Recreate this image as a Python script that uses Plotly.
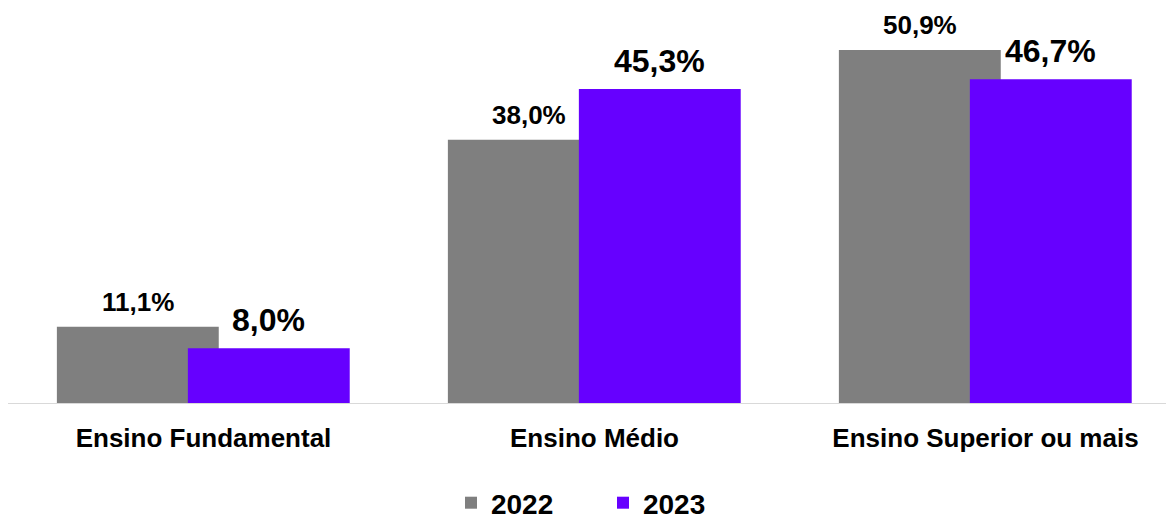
import plotly.graph_objects as go

categories = ["Ensino Fundamental", "Ensino Médio", "Ensino Superior ou mais"]
years = ["2022", "2023"]
values_2022 = [11.1, 38.0, 50.9]
values_2023 = [8.0, 45.3, 46.7]
colors = ["#7f7f7f", "#6600ff"]
label_sizes = [26, 32]

bar_width = 0.414
offsets = [-0.375, -0.04]

FONT = "Liberation Sans, Arial, sans-serif"

def fmt(v):
    return f"{v:.1f}".replace(".", ",") + "%"

fig = go.Figure()
xs = list(range(len(categories)))
for name, vals, col, off in zip(years, [values_2022, values_2023], colors, offsets):
    fig.add_trace(go.Bar(
        x=xs, y=vals, name=name, width=bar_width, offset=off,
        marker=dict(color=col, line=dict(width=0)),
        hoverinfo="skip",
    ))

for vals, off, size in zip([values_2022, values_2023], offsets, label_sizes):
    for i, v in enumerate(vals):
        fig.add_annotation(
            x=i + off + bar_width / 2, y=v, text=fmt(v), showarrow=False,
            yanchor="bottom", yshift=8,
            font=dict(family=FONT, size=size, color="black", weight="bold"),
        )

fig.update_layout(
    width=1166, height=523,
    margin=dict(l=8, r=0, t=0, b=119, autoexpand=False),
    paper_bgcolor="white", plot_bgcolor="white",
    barmode="overlay",
    showlegend=True,
    legend=dict(
        orientation="h", x=0.5138, xanchor="center",
        y=-(523 - 404 + 5) / 404, yanchor="bottom",
        font=dict(family=FONT, size=28, color="black", weight="bold"),
        entrywidth=107, itemclick=False, itemdoubleclick=False,
    ),
    xaxis=dict(
        range=[-0.5, -0.5 + 1158 / 391], tickvals=xs, ticktext=categories,
        showgrid=False, zeroline=False, showline=False, automargin=False,
        ticks="", ticklabelstandoff=16,
        tickfont=dict(family=FONT, size=26, color="black", weight="bold"),
    ),
    yaxis=dict(
        range=[0, 404 / 6.955], visible=False, showgrid=False, zeroline=False,
    ),
    shapes=[dict(type="line", xref="paper", yref="y", x0=0, x1=1, y0=0, y1=0,
                 line=dict(color="#d9d9d9", width=2))],
)

fig.write_html("out.html")
